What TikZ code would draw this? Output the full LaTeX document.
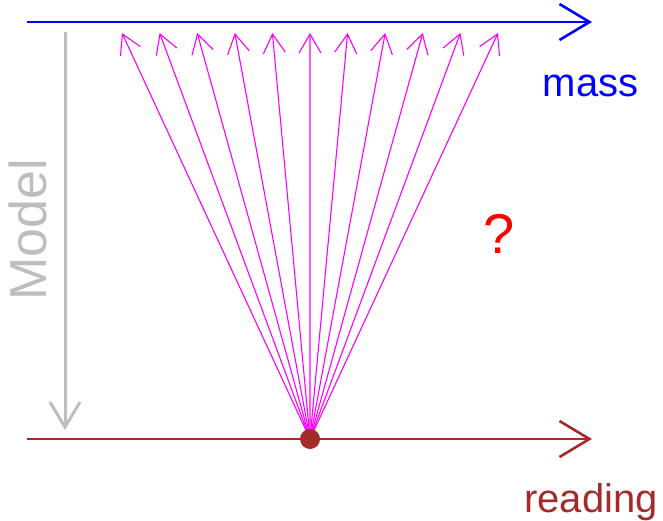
\documentclass[tikz,border=0pt]{standalone}
\usepackage{fontspec}
\setmainfont{Liberation Sans}
\usetikzlibrary{arrows.meta}
\definecolor{readred}{RGB}{165,42,42}
\definecolor{modelgray}{RGB}{190,190,190}
\definecolor{raymag}{RGB}{255,0,255}

\begin{document}
\begin{tikzpicture}[x=1pt,y=-1pt,
  axis/.style={line width=2.6pt,-{Straight Barb[length=30pt,width=36pt]}},
  ray/.style={raymag,line width=1.1pt,-{Straight Barb[length=19pt,width=22pt]}},
  big/.style={font=\fontsize{40}{48}\selectfont}]

\useasboundingbox (0,0) rectangle (663,521);

% Axes
\coordinate (massL) at (27,22);
\coordinate (massR) at (592,22);
\coordinate (readL) at (27,439);
\coordinate (readR) at (592,439);
\draw[axis, blue]    (massL) -- (massR);
\draw[axis, readred] (readL) -- (readR);

% Labels
\node[big, blue, anchor=base]    (mass) at (590.5,97)  {mass};
\node[big, readred, anchor=base] (read) at (591,512)   {reading};
\node[red, anchor=base, font=\fontsize{56}{60}\selectfont] (q) at (499.5,253) {?};

% Model arrow
\coordinate (modT) at (65,32);
\coordinate (modB) at (65,430);
\draw[modelgray, line width=3pt, -{Straight Barb[length=25pt,width=30pt]}] (modT) -- (modB);
\node[modelgray, rotate=90, font=\fontsize{52}{56}\selectfont] (model) at (28,230) {Model};

% Rays from the reading
\coordinate (pc) at (310,439);
\foreach \i in {0,...,10}{
  \coordinate (t\i) at ({122+\i*37.6},33);
  \draw[ray] (pc) -- (t\i);
}
\node[circle, fill=readred, inner sep=0pt, minimum size=20pt] (pt) at (pc) {};

\end{tikzpicture}
\end{document}
